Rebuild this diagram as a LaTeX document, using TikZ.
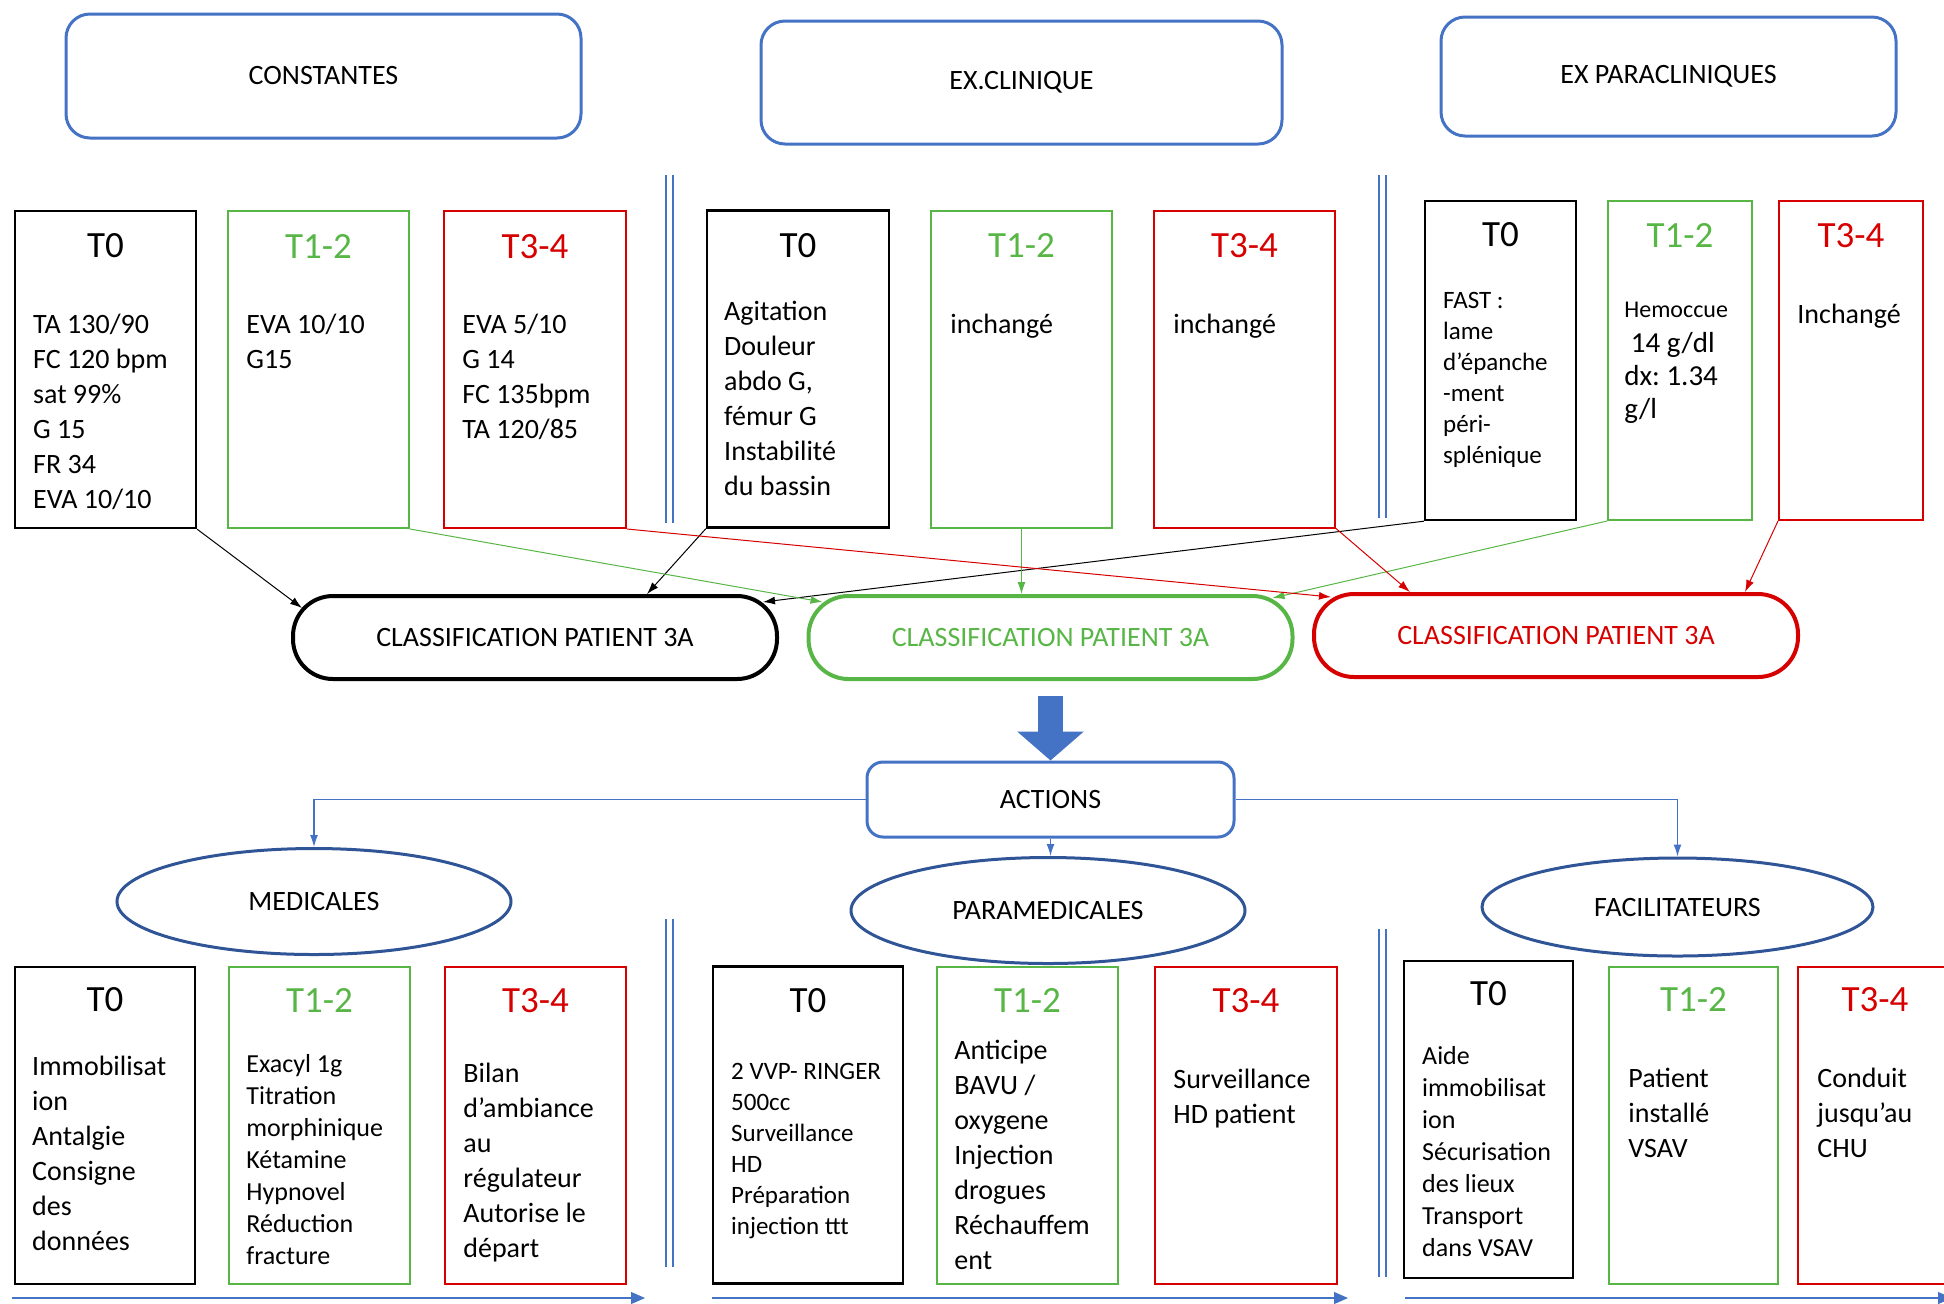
\documentclass[tikz,border=0pt]{standalone}
\usepackage{fontspec}
\setmainfont{Carlito}
\usetikzlibrary{positioning, shapes.geometric, arrows.meta}
\frenchspacing

\definecolor{tgreen}{RGB}{88,182,70}
\definecolor{tred}{RGB}{214,0,0}
\definecolor{hblue}{RGB}{68,114,196}
\definecolor{eblue}{RGB}{47,85,151}

\begin{document}
\begin{tikzpicture}[x=0.5pt, y=-0.5pt,
		header/.style={draw=hblue, line width=1.5pt, rounded corners=12pt, font=\fontsize{14}{17}\selectfont},
		tbox/.style={draw=#1, line width=1pt, inner sep=0pt, minimum height=158.5pt},
		ttl/.style={font=\fontsize{18.5}{22}\selectfont, text=#1, inner sep=0pt, anchor=base},
		body/.style={font=\fontsize{14}{17.5}\selectfont, align=left, inner sep=0pt, anchor=north west},
		small/.style={font=\fontsize{12.5}{15.5}\selectfont},
		mid/.style={font=\fontsize{13}{16}\selectfont},
		classif/.style={draw=#1, text=#1, line width=2pt, rounded corners=20pt, minimum width=242pt, minimum height=41.5pt, font=\fontsize{14}{17}\selectfont},
		group/.style={ellipse, draw=eblue, line width=1.5pt, minimum width=197pt, minimum height=53pt, font=\fontsize{14}{17}\selectfont},
		feed/.style={draw=#1, line width=0.5pt, -{Latex[length=6pt,width=4pt]}},
		branch/.style={draw=hblue, line width=0.6pt, -{Latex[length=6pt,width=4pt]}},
		timeline/.style={draw=hblue, line width=0.6pt, -{Triangle[length=7pt,width=6pt]}},
		sep/.style={draw=hblue, line width=1pt}]
		\clip[use as bounding box] (0,0) rectangle (1944,1303);
		%headers
		\node[header, minimum width=257.5pt, minimum height=62pt] (hconst) at (323.5,76) {CONSTANTES};
		\node[header, minimum width=260.5pt, minimum height=61.5pt] (hclin) at (1021.5,82.5) {EX.CLINIQUE};
		\node[header, minimum width=227.5pt, minimum height=59.5pt] (hpara) at (1668.5,76.5) {EX PARACLINIQUES};
		%separators
		\foreach \x/\a/\b in {666/175/523, 1379/175/518, 666/919/1267, 1379/929/1277}
			\draw[sep] (\x,\a) -- (\x,\b) (\x+7,\a) -- (\x+7,\b);
		%constantes
		\node[tbox=black, line width=1.2pt, minimum width=90.5pt] (c0) at (105.5,369.5) {};
		\node[tbox=tgreen, minimum width=90.5pt] (c1) at (318.5,369.5) {};
		\node[tbox=tred, minimum width=91pt] (c2) at (535,369.5) {};
		\node[below=24pt of c0.north, ttl=black] {T0};
		\node[below=24pt of c1.north, ttl=tgreen] {T1-2};
		\node[below=24pt of c2.north, ttl=tred] {T3-4};
		\node[body, below right=49.5pt and 9.5pt of c0.north west] {\strut TA 130/90\\FC 120 bpm\\sat 99\%\\G 15\\FR 34\\EVA 10/10};
		\node[body, below right=49.5pt and 9.5pt of c1.north west] {\strut EVA 10/10\\G15};
		\node[body, below right=49.5pt and 9.5pt of c2.north west] {\strut EVA 5/10\\G 14\\FC 135bpm\\TA 120/85};
		%examen clinique
		\node[tbox=black, line width=1.2pt, minimum width=91pt] (e0) at (798,369) {};
		\node[tbox=tgreen, minimum width=90.5pt] (e1) at (1021.5,369) {};
		\node[tbox=tred, minimum width=90.5pt] (e2) at (1244.5,369) {};
		\node[below=24pt of e0.north, ttl=black] {T0};
		\node[below=24pt of e1.north, ttl=tgreen] {T1-2};
		\node[below=24pt of e2.north, ttl=tred] {T3-4};
		\node[body, below right=43pt and 9pt of e0.north west] {\strut Agitation\\Douleur\\abdo G,\\fémur G\\Instabilité\\du bassin};
		\node[body, below right=49.5pt and 10pt of e1.north west] {\strut inchangé};
		\node[body, below right=49.5pt and 10pt of e2.north west] {\strut inchangé};
		%examens paracliniques
		\node[tbox=black, line width=1.2pt, minimum width=75.5pt, minimum height=159.5pt] (p0) at (1500.5,360.5) {};
		\node[tbox=tgreen, minimum width=72pt, minimum height=159.5pt] (p1) at (1680,360.5) {};
		\node[tbox=tred, minimum width=72pt, minimum height=159.5pt] (p2) at (1851,360.5) {};
		\node[below=23.5pt of p0.north, ttl=black] {T0};
		\node[below=23.5pt of p1.north, ttl=tgreen] {T1-2};
		\node[below=23.5pt of p2.north, ttl=tred] {T3-4};
		\node[body, small, below right=43.4pt and 9.5pt of p0.north west] {\strut FAST :\\lame\\d’épanche\\-ment\\péri-\\splénique};
		\node[body, font=\fontsize{12}{15}\selectfont, below right=48.25pt and 8.5pt of p1.north west] {\strut Hemoccue};
		\node[body, font=\fontsize{14.5}{16.5}\selectfont, below right=64.7pt and 8.5pt of p1.north west] {\strut\ 14 g/dl\\dx: 1.34\\g/l};
		\node[body, below right=49.5pt and 9.5pt of p2.north west] {\strut Inchangé};
		%classification
		\node[classif=black] (clsA) at (535,637.5) {CLASSIFICATION PATIENT 3A};
		\node[classif=tgreen] (clsB) at (1050.5,637.5) {CLASSIFICATION PATIENT 3A};
		\node[classif=tred] (clsC) at (1556,635.5) {CLASSIFICATION PATIENT 3A};
		\draw[feed=black] (c0.south east) -- ([xshift=5.5pt,yshift=-7pt]clsA.north west);
		\draw[feed=black] (e0.south west) -- ([xshift=56pt]clsA.north);
		\draw[feed=black] (p0.south west) -- ([xshift=-8pt,yshift=-4pt]clsA.north east);
		\draw[feed=tgreen] (c1.south east) -- ([xshift=8pt,yshift=-4pt]clsB.north west);
		\draw[feed=tgreen] (e1.south) -- (e1.south |- clsB.north);
		\draw[feed=tgreen] (p1.south west) -- ([xshift=-11pt,yshift=-2pt]clsB.north east);
		\draw[feed=tred] (c2.south east) -- ([xshift=9.5pt,yshift=-2.5pt]clsC.north west);
		\draw[feed=tred] (e2.south east) -- ([xshift=-73pt]clsC.north);
		\draw[feed=tred] (p2.south west) -- ([xshift=94.5pt]clsC.north);
		%actions
		\node[draw=hblue, line width=1.5pt, rounded corners=8pt, minimum width=183.5pt, minimum height=37.5pt, font=\fontsize{14}{17}\selectfont] (act) at (1050.5,799.5) {ACTIONS};
		\draw[hblue, line width=12.5pt, -{Triangle[length=14.5pt,width=32.5pt]}] ([yshift=-7.5pt]clsB.south) -- (act.north);
		\node[group] (med) at (314,901.5) {MEDICALES};
		\node[group] (para) at (1048,910.5) {PARAMEDICALES};
		\node[group, minimum width=195.5pt, minimum height=49pt] (facil) at (1677.5,907) {FACILITATEURS};
		\draw[branch] (act.west) -| (med.north);
		\draw[branch] (act.south) -- (act.south |- para.north);
		\draw[branch] (act.east) -| (facil.north);
		%medicales
		\node[tbox=black, line width=1.2pt, minimum width=90pt] (m0) at (105,1125.5) {};
		\node[tbox=tgreen, minimum width=90.5pt] (m1) at (319.5,1125.5) {};
		\node[tbox=tred, minimum width=90.5pt] (m2) at (535.5,1125.5) {};
		\node[below=23pt of m0.north, ttl=black] {T0};
		\node[below=23pt of m1.north, ttl=tgreen] {T1-2};
		\node[below=23pt of m2.north, ttl=tred] {T3-4};
		\node[body, below right=42.5pt and 9pt of m0.north west] {\strut Immobilisat\\ion\\Antalgie\\Consigne\\des\\données};
		\node[body, mid, below right=42pt and 9pt of m1.north west] {\strut Exacyl 1g\\Titration\\morphinique\\Kétamine\\Hypnovel\\Réduction\\fracture};
		\node[body, below right=46pt and 9.5pt of m2.north west] {\strut Bilan\\d’ambiance\\au\\régulateur\\Autorise le\\départ};
		%paramedicales
		\node[tbox=black, line width=1.2pt, minimum width=95pt] (q0) at (808,1125) {};
		\node[tbox=tgreen, minimum width=90.5pt] (q1) at (1027.5,1125) {};
		\node[tbox=tred, minimum width=91pt] (q2) at (1246,1125) {};
		\node[below=23.5pt of q0.north, ttl=black] {T0};
		\node[below=23.5pt of q1.north, ttl=tgreen] {T1-2};
		\node[below=23.5pt of q2.north, ttl=tred] {T3-4};
		\node[body, small, below right=45.9pt and 9.5pt of q0.north west] {\strut 2 VVP- RINGER\\500cc\\Surveillance\\HD\\Préparation\\injection ttt};
		\node[body, below right=34.5pt and 9pt of q1.north west] {\strut Anticipe\\BAVU /\\oxygene\\Injection\\drogues\\Réchauffem\\ent};
		\node[body, below right=49pt and 9.5pt of q2.north west] {\strut Surveillance\\HD patient};
		%facilitateurs
		\node[tbox=black, line width=1.2pt, minimum width=84.5pt] (f0) at (1488.5,1119.5) {};
		\node[tbox=tgreen, minimum width=84.5pt] (f1) at (1693.5,1125) {};
		\node[tbox=tred, minimum width=77pt] (f2) at (1875,1125) {};
		\node[below=23pt of f0.north, ttl=black] {T0};
		\node[below=23pt of f1.north, ttl=tgreen] {T1-2};
		\node[below=23pt of f2.north, ttl=tred] {T3-4};
		\node[body, mid, below right=40.9pt and 9.5pt of f0.north west] {\strut Aide\\immobilisat\\ion\\Sécurisation\\des lieux\\Transport\\dans VSAV};
		\node[body, below right=48.5pt and 10pt of f1.north west] {\strut Patient\\installé\\VSAV};
		\node[body, below right=48.5pt and 10pt of f2.north west] {\strut Conduit\\jusqu’au\\CHU};
		%timeline
		\draw[timeline] (12,1298) -- (645,1298);
		\draw[timeline] (712,1298) -- (1348,1298);
		\draw[timeline] (1405,1298) -- (1952,1298);
\end{tikzpicture}
\end{document}
